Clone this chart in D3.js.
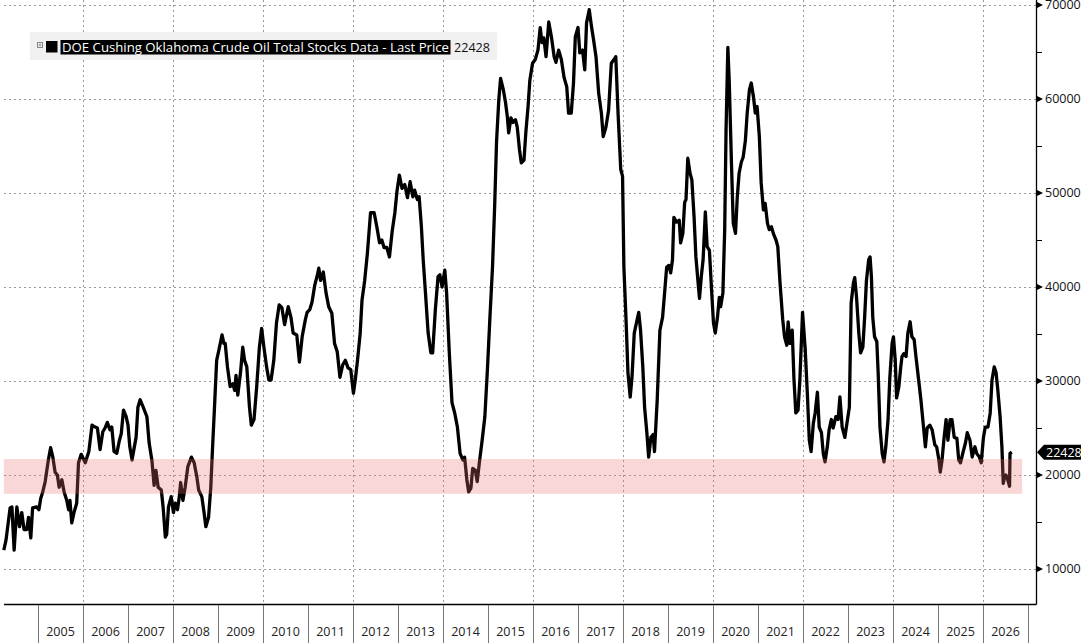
<!DOCTYPE html>
<html>
<head>
<meta charset="utf-8">
<script src="https://cdn.jsdelivr.net/npm/d3@7"></script>
<style>
  html, body { margin: 0; padding: 0; background: #fff; }
  svg { display: block; font-family: "Open Sans", "Noto Sans", sans-serif; }
</style>
</head>
<body>
<script>
// DATA (decimal year, thousand barrels)
const years = [
  2004.24, 2004.29, 2004.38, 2004.42, 2004.47, 2004.53, 2004.59, 2004.64, 2004.69, 2004.75,
  2004.79, 2004.84, 2004.88, 2004.97, 2005.02, 2005.06, 2005.10, 2005.16, 2005.23, 2005.28,
  2005.33, 2005.38, 2005.43, 2005.47, 2005.53, 2005.58, 2005.64, 2005.68, 2005.71, 2005.75,
  2005.80, 2005.86, 2005.90, 2005.96, 2006.05, 2006.13, 2006.20, 2006.27, 2006.32, 2006.38,
  2006.44, 2006.49, 2006.54, 2006.60, 2006.64, 2006.69, 2006.75, 2006.81, 2006.85, 2006.90,
  2006.96, 2007.00, 2007.04, 2007.09, 2007.13, 2007.18, 2007.22, 2007.27, 2007.34, 2007.42,
  2007.47, 2007.53, 2007.58, 2007.62, 2007.67, 2007.74, 2007.78, 2007.83, 2007.86, 2007.90,
  2007.96, 2008.01, 2008.05, 2008.10, 2008.14, 2008.17, 2008.22, 2008.27, 2008.33, 2008.41,
  2008.47, 2008.53, 2008.57, 2008.64, 2008.69, 2008.73, 2008.79, 2008.84, 2008.88, 2008.93,
  2008.97, 2009.02, 2009.09, 2009.13, 2009.16, 2009.21, 2009.27, 2009.33, 2009.37, 2009.40,
  2009.44, 2009.50, 2009.55, 2009.59, 2009.64, 2009.70, 2009.74, 2009.80, 2009.86, 2009.92,
  2009.97, 2010.02, 2010.08, 2010.13, 2010.18, 2010.24, 2010.30, 2010.36, 2010.42, 2010.48,
  2010.56, 2010.62, 2010.67, 2010.75, 2010.81, 2010.87, 2010.94, 2010.98, 2011.04, 2011.09,
  2011.15, 2011.21, 2011.24, 2011.28, 2011.34, 2011.40, 2011.46, 2011.53, 2011.59, 2011.65,
  2011.71, 2011.77, 2011.83, 2011.89, 2011.95, 2012.01, 2012.05, 2012.10, 2012.16, 2012.20,
  2012.26, 2012.32, 2012.39, 2012.47, 2012.53, 2012.59, 2012.64, 2012.69, 2012.75, 2012.81,
  2012.87, 2012.93, 2012.98, 2013.03, 2013.09, 2013.15, 2013.21, 2013.27, 2013.33, 2013.37,
  2013.43, 2013.47, 2013.52, 2013.56, 2013.61, 2013.67, 2013.73, 2013.77, 2013.83, 2013.89,
  2013.93, 2013.98, 2014.04, 2014.08, 2014.14, 2014.20, 2014.26, 2014.32, 2014.38, 2014.44,
  2014.48, 2014.53, 2014.57, 2014.62, 2014.66, 2014.72, 2014.76, 2014.81, 2014.87, 2014.93,
  2014.99, 2015.04, 2015.10, 2015.15, 2015.19, 2015.24, 2015.28, 2015.34, 2015.39, 2015.43,
  2015.46, 2015.51, 2015.55, 2015.61, 2015.65, 2015.70, 2015.74, 2015.80, 2015.84, 2015.89,
  2015.93, 2015.99, 2016.05, 2016.11, 2016.16, 2016.20, 2016.24, 2016.29, 2016.35, 2016.41,
  2016.47, 2016.51, 2016.57, 2016.63, 2016.69, 2016.75, 2016.79, 2016.85, 2016.90, 2016.94,
  2017.00, 2017.04, 2017.10, 2017.15, 2017.19, 2017.25, 2017.30, 2017.34, 2017.40, 2017.46,
  2017.52, 2017.56, 2017.62, 2017.68, 2017.74, 2017.80, 2017.84, 2017.89, 2017.95, 2017.99,
  2018.02, 2018.07, 2018.11, 2018.16, 2018.20, 2018.25, 2018.30, 2018.35, 2018.39, 2018.44,
  2018.48, 2018.53, 2018.57, 2018.62, 2018.67, 2018.70, 2018.76, 2018.82, 2018.88, 2018.93,
  2018.97, 2019.02, 2019.06, 2019.10, 2019.13, 2019.19, 2019.25, 2019.28, 2019.33, 2019.37,
  2019.40, 2019.44, 2019.49, 2019.53, 2019.58, 2019.62, 2019.67, 2019.70, 2019.74, 2019.78,
  2019.83, 2019.87, 2019.92, 2019.96, 2020.01, 2020.05, 2020.10, 2020.14, 2020.17, 2020.22,
  2020.26, 2020.29, 2020.33, 2020.36, 2020.41, 2020.45, 2020.50, 2020.54, 2020.58, 2020.63,
  2020.67, 2020.72, 2020.76, 2020.81, 2020.85, 2020.90, 2020.94, 2020.98, 2021.03, 2021.07,
  2021.12, 2021.16, 2021.21, 2021.25, 2021.30, 2021.34, 2021.40, 2021.44, 2021.49, 2021.55,
  2021.59, 2021.64, 2021.67, 2021.71, 2021.76, 2021.80, 2021.84, 2021.89, 2021.93, 2021.99,
  2022.05, 2022.10, 2022.14, 2022.18, 2022.23, 2022.27, 2022.32, 2022.36, 2022.41, 2022.45,
  2022.49, 2022.54, 2022.58, 2022.63, 2022.67, 2022.73, 2022.78, 2022.82, 2022.87, 2022.93,
  2022.97, 2023.03, 2023.07, 2023.12, 2023.15, 2023.19, 2023.24, 2023.28, 2023.33, 2023.37,
  2023.41, 2023.46, 2023.49, 2023.52, 2023.55, 2023.59, 2023.64, 2023.67, 2023.71, 2023.76,
  2023.80, 2023.84, 2023.89, 2023.93, 2023.98, 2024.01, 2024.05, 2024.08, 2024.13, 2024.17,
  2024.20, 2024.24, 2024.29, 2024.33, 2024.38, 2024.42, 2024.47, 2024.51, 2024.57, 2024.62,
  2024.67, 2024.72, 2024.76, 2024.82, 2024.87, 2024.93, 2024.97, 2025.02, 2025.05, 2025.09,
  2025.13, 2025.18, 2025.22, 2025.27, 2025.31, 2025.36, 2025.42, 2025.46, 2025.50, 2025.55,
  2025.61, 2025.65, 2025.71, 2025.76, 2025.82, 2025.86, 2025.92, 2025.96, 2026.01, 2026.05,
  2026.11, 2026.16, 2026.20, 2026.25, 2026.29, 2026.33, 2026.38, 2026.42, 2026.45, 2026.48,
  2026.51, 2026.55, 2026.59, 2026.60, 2026.64
];
const stocks = [
  12000, 13100, 16500, 16600, 12000, 16600, 14500, 16000, 14200, 14200,
  15500, 13300, 16500, 16600, 16300, 17500, 18100, 19300, 21600, 22900,
  21900, 20300, 20000, 18700, 19500, 18200, 17300, 16300, 17300, 14900,
  16000, 17000, 21300, 22200, 21300, 22500, 25300, 25100, 25000, 22700,
  24600, 25000, 25600, 24800, 25100, 22500, 22300, 23700, 24400, 26900,
  26200, 25300, 23000, 21600, 22700, 24000, 27200, 28000, 27200, 26200,
  23400, 21600, 18900, 20500, 18700, 18400, 16600, 13400, 13700, 16600,
  17700, 16000, 17000, 16300, 17700, 19200, 17300, 18700, 20900, 21900,
  21300, 19800, 18400, 17700, 16000, 14500, 15500, 18700, 23000, 28000,
  32200, 33300, 34900, 34000, 34000, 31500, 29400, 29700, 29000, 30600,
  28500, 30900, 33600, 32200, 31500, 27200, 25300, 25900, 29400, 33600,
  35600, 33600, 31500, 30100, 30100, 32200, 36200, 38100, 37800, 36000,
  37900, 36800, 35100, 34900, 32000, 34700, 36500, 37300, 37600, 38400,
  40200, 41300, 42000, 40700, 41600, 39400, 37900, 37200, 34000, 33100,
  30400, 31700, 32200, 31400, 31200, 28700, 30100, 32200, 35100, 38600,
  40700, 43600, 47900, 47900, 46400, 44700, 45000, 44200, 44200, 43200,
  45900, 47900, 50300, 51900, 50500, 50900, 49500, 51200, 49600, 50300,
  49300, 49600, 46400, 42900, 39400, 35100, 33000, 33000, 37600, 41100,
  41300, 40000, 41800, 39400, 33000, 27700, 26600, 25100, 22300, 21600,
  21900, 19500, 18200, 18600, 20700, 20500, 19300, 21400, 23700, 26200,
  31500, 36500, 42100, 48900, 55500, 59900, 62200, 61000, 59600, 58100,
  56400, 58000, 57500, 57800, 57000, 54600, 53200, 53500, 56400, 59200,
  62000, 63800, 64200, 65200, 67600, 66000, 66500, 64500, 68200, 66600,
  64500, 63900, 65200, 64200, 62300, 61300, 58500, 58500, 61700, 66600,
  67600, 64900, 65200, 63100, 68100, 69500, 67700, 66500, 64500, 60600,
  58500, 56000, 57000, 58800, 63800, 64200, 64500, 58500, 52500, 51800,
  42100, 36200, 30900, 28300, 30400, 35100, 36200, 37300, 35400, 31500,
  27200, 24500, 21900, 24000, 24300, 22500, 28000, 35400, 36800, 39700,
  42100, 42300, 41500, 42900, 47400, 46900, 47100, 44700, 45700, 49000,
  49300, 53700, 52100, 51400, 47400, 43200, 40400, 38800, 41100, 42900,
  48000, 44300, 43900, 40400, 36200, 35100, 36800, 38900, 37900, 39400,
  46100, 56700, 65500, 62000, 53200, 46800, 45700, 49600, 52100, 53300,
  53800, 55600, 58500, 61000, 61700, 60200, 58500, 59200, 56000, 51100,
  48200, 48900, 46800, 46100, 46400, 45700, 45000, 44300, 40400, 36500,
  34700, 33800, 36300, 34000, 35400, 30100, 26600, 26900, 30100, 37300,
  33300, 28300, 23700, 22500, 25500, 26600, 28800, 25100, 24500, 22300,
  21400, 23000, 24800, 25900, 25000, 26200, 25900, 28300, 25100, 24000,
  25300, 27200, 38300, 40400, 41000, 38900, 35100, 33000, 33600, 36800,
  40700, 42900, 43200, 41100, 36800, 34700, 34200, 30900, 25100, 22300,
  21400, 23000, 25900, 30400, 34000, 34700, 32200, 28200, 29400, 31400,
  32600, 32900, 32600, 35100, 36300, 34700, 34400, 32600, 30100, 28000,
  25500, 23000, 25000, 25300, 24800, 23200, 23000, 21600, 20300, 21600,
  23700, 25900, 23700, 25900, 25900, 24000, 23900, 21600, 21300, 22300,
  23400, 24500, 23700, 21900, 23000, 22300, 21900, 21300, 24000, 25100,
  25100, 26600, 30100, 31500, 30900, 29000, 26200, 23000, 19100, 19800,
  20000, 19500, 18800, 22300, 22428
];
const yTicks = [10000, 20000, 30000, 40000, 50000, 60000, 70000];
const yMinor = [15000, 25000, 35000, 45000, 55000, 65000];
const yearLabels = d3.range(2005, 2027);
const gridYears = [2006, 2008, 2010, 2012, 2014, 2016, 2018, 2020, 2022, 2024, 2026];
const band = [18000, 21700];
const bandYears = [2004.24, 2026.87];
const seriesName = "DOE Cushing Oklahoma Crude Oil Total Stocks Data - Last Price";
const lastPrice = 22428;

const W = 1086, H = 643;
const plotLeft = 4, plotRight = 1036, plotBottom = 604;

const svg = d3.select("body").append("svg")
  .attr("width", W).attr("height", H);

const x = d3.scaleLinear().domain([2005, 2027]).range([38, 1028]);
const y = d3.scaleLinear().domain([10000, 70000]).range([569, 5]);

// GRID
const grid = svg.append("g")
  .attr("stroke", "#9a9a9a").attr("stroke-width", 1).attr("stroke-dasharray", "2,3");
grid.selectAll("line.h").data(yTicks).enter().append("line")
  .attr("x1", plotLeft).attr("x2", plotRight)
  .attr("y1", d => Math.round(y(d)) + 0.5).attr("y2", d => Math.round(y(d)) + 0.5);
grid.selectAll("line.v").data(gridYears).enter().append("line")
  .attr("x1", d => Math.round(x(d)) + 0.5).attr("x2", d => Math.round(x(d)) + 0.5)
  .attr("y1", 0).attr("y2", plotBottom);

// LINE
const pts = years.map((d, i) => [d, stocks[i]]);
svg.append("path")
  .datum(pts)
  .attr("fill", "none")
  .attr("stroke", "#000")
  .attr("stroke-width", 3.3)
  .attr("stroke-linejoin", "round")
  .attr("d", d3.line().x(d => x(d[0])).y(d => y(d[1])));

// BAND (semi-transparent, on top of line)
svg.append("rect")
  .attr("x", x(bandYears[0])).attr("width", x(bandYears[1]) - x(bandYears[0]))
  .attr("y", y(band[1])).attr("height", y(band[0]) - y(band[1]))
  .attr("fill", "rgba(238,110,110,0.28)");

// AXES
svg.append("line")
  .attr("x1", plotLeft).attr("x2", plotRight + 0.5)
  .attr("y1", plotBottom + 0.5).attr("y2", plotBottom + 0.5)
  .attr("stroke", "#000").attr("stroke-width", 1.3);
svg.append("line")
  .attr("x1", plotRight + 0.5).attr("x2", plotRight + 0.5)
  .attr("y1", 0).attr("y2", plotBottom + 0.5)
  .attr("stroke", "#000").attr("stroke-width", 1.3);

// year separators + labels
svg.append("g").selectAll("line").data(yearLabels.concat([2027])).enter().append("line")
  .attr("x1", d => Math.round(x(d)) + 0.5).attr("x2", d => Math.round(x(d)) + 0.5)
  .attr("y1", plotBottom + 1).attr("y2", H)
  .attr("stroke", "#777").attr("stroke-width", 1);
svg.append("g").selectAll("text").data(yearLabels).enter().append("text")
  .attr("x", d => x(d + 0.5)).attr("y", 636)
  .attr("text-anchor", "middle")
  .attr("font-size", 12.5).attr("fill", "#222")
  .text(d => d);

// right axis ticks
svg.append("g").selectAll("path").data(yTicks).enter().append("path")
  .attr("d", d => `M${plotRight},${y(d) - 3.5}L${plotRight + 7},${y(d)}L${plotRight},${y(d) + 3.5}Z`)
  .attr("fill", "#000");
svg.append("g").selectAll("line").data(yMinor).enter().append("line")
  .attr("x1", plotRight).attr("x2", plotRight + 6)
  .attr("y1", d => Math.round(y(d)) + 0.5).attr("y2", d => Math.round(y(d)) + 0.5)
  .attr("stroke", "#000").attr("stroke-width", 1);
svg.append("g").selectAll("text").data(yTicks).enter().append("text")
  .attr("x", 1045).attr("y", d => y(d))
  .attr("dy", "0.35em")
  .attr("font-size", 12.5).attr("fill", "#111")
  .text(d => d);

// last price tag
const ly = y(lastPrice);
svg.append("path")
  .attr("d", `M${plotRight + 1},${ly}L${plotRight + 8},${ly - 7.5}L1081,${ly - 7.5}L1081,${ly + 7.5}L${plotRight + 8},${ly + 7.5}Z`)
  .attr("fill", "#000");
svg.append("text")
  .attr("x", 1046).attr("y", ly).attr("dy", "0.36em")
  .attr("font-size", 12.5).attr("fill", "#fff")
  .text(lastPrice);

// LEGEND
const lg = svg.append("g");
lg.append("rect").attr("x", 30).attr("y", 32).attr("width", 467).attr("height", 28)
  .attr("fill", "#f0f0f0");
lg.append("rect").attr("x", 37.5).attr("y", 42.5).attr("width", 5).attr("height", 5)
  .attr("fill", "none").attr("stroke", "#888").attr("stroke-width", 1);
lg.append("line").attr("x1", 38.5).attr("x2", 41.5).attr("y1", 45).attr("y2", 45)
  .attr("stroke", "#888").attr("stroke-width", 0.8);
lg.append("line").attr("x1", 40).attr("x2", 40).attr("y1", 43.5).attr("y2", 46.5)
  .attr("stroke", "#888").attr("stroke-width", 0.8);
lg.append("rect").attr("x", 46).attr("y", 41).attr("width", 11.5).attr("height", 11.5)
  .attr("fill", "#000");
lg.append("rect").attr("x", 60.5).attr("y", 40).attr("width", 390).attr("height", 14.5)
  .attr("fill", "#000");
// squeezed to the width it takes in the picture
lg.append("text")
  .attr("x", 62).attr("y", 51.8)
  .attr("font-size", 13).attr("fill", "#fff")
  .attr("textLength", 387).attr("lengthAdjust", "spacingAndGlyphs")
  .text(seriesName);
lg.append("text")
  .attr("x", 454).attr("y", 51.8)
  .attr("font-size", 13).attr("fill", "#111")
  .attr("textLength", 36).attr("lengthAdjust", "spacingAndGlyphs")
  .text(lastPrice);
</script>
</body>
</html>
